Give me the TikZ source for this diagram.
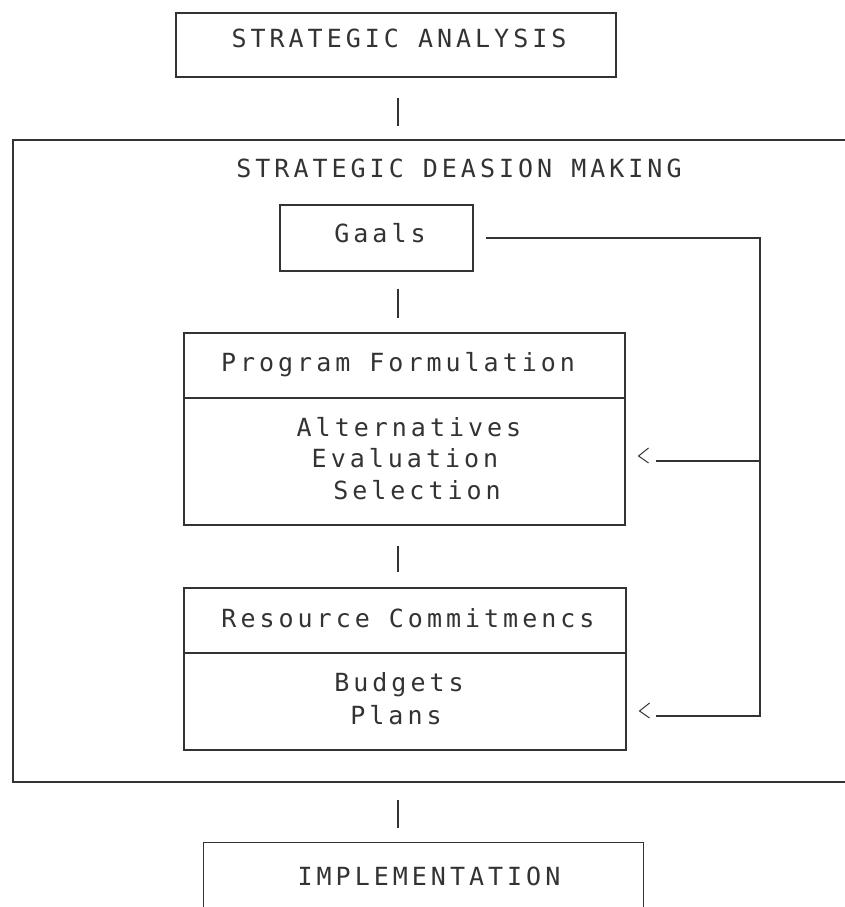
\documentclass[tikz,border=0pt]{standalone}
\usepackage{fontspec}
\usetikzlibrary{calc}
\newfontfamily\dotfont[LetterSpace=16]{DejaVu Sans Mono}
\begin{document}
\begin{tikzpicture}[x=1pt,y=-1pt,
  ink/.style={draw=black!80, line width=1.1pt},
  box/.style={ink, rectangle, inner sep=0pt, anchor=center},
  lbl/.style={font=\dotfont\fontsize{25}{30}\selectfont, text=black!80, inner sep=0pt, anchor=base, xshift=2pt},
  wire/.style={ink}]
\useasboundingbox (0,0) rectangle (845,907);
\clip (0,0) rectangle (845,907);

% boxes
\node[box, minimum width=440pt, minimum height=64pt] (sa) at (396,45) {};
\node[box, minimum width=193pt, minimum height=66pt] (gaals) at (376.5,238) {};
\node[box, minimum width=441pt, minimum height=192pt] (prog) at (404.5,429) {};
\node[box, minimum width=442pt, minimum height=162pt] (res) at (405,669) {};
\node[rectangle, inner sep=0pt, minimum width=439pt, minimum height=84pt] (impl) at (423.5,885) {};

% outer frame (open to the right)
\coordinate (otr) at (845,140);
\coordinate (otl) at (13,140);
\coordinate (obl) at (13,782);
\coordinate (obr) at (845,782);
\draw[ink] (otr) -- (otl) -- (obl) -- (obr);

% implementation box (open at the bottom)
\draw[ink] (impl.south west) -- (impl.north west) -- (impl.north east) -- (impl.south east);

% dividers
\coordinate (pdiv) at (0,398);
\coordinate (rdiv) at (0,653);
\draw[ink] (prog.west |- pdiv) -- (prog.east |- pdiv);
\draw[ink] (res.west |- rdiv) -- (res.east |- rdiv);

% vertical connectors
\coordinate (spine) at (398,0);
\draw[wire, shorten <=20pt, shorten >=14pt] (spine |- sa.south) -- (spine |- otl);
\draw[wire, shorten <=17pt, shorten >=14pt] (spine |- gaals.south) -- (spine |- prog.north);
\draw[wire, shorten <=20pt, shorten >=15pt] (spine |- prog.south) -- (spine |- res.north);
\draw[wire, shorten <=18pt, shorten >=15pt] (spine |- obl) -- (spine |- impl.north);

% feedback lines
\coordinate (fbtop) at (760,238);
\coordinate (fbev) at (760,461);
\coordinate (fbpl) at (760,716);
\draw[wire, shorten <=12pt] (gaals.east) -- (fbtop) -- (fbpl) -- ($(res.east |- fbpl)+(29,0)$);
\draw[wire] (fbev) -- ($(prog.east |- fbev)+(30,0)$);
% chevrons
\draw[ink, line width=1pt] ($(prog.east |- fbev)+(23,-13)$) -- ($(prog.east |- fbev)+(13,-5)$) -- ($(prog.east |- fbev)+(23,2)$);
\draw[ink, line width=1pt] ($(res.east |- fbpl)+(23,-13)$) -- ($(res.east |- fbpl)+(13,-5)$) -- ($(res.east |- fbpl)+(23,2)$);

% texts
\node[lbl] (tSA) at (397,48) {STRATEGIC ANALYSIS};
\node[lbl] (tSDM) at (457,177) {STRATEGIC DEASION MAKING};
\node[lbl] (tG) at (378,242) {Gaals};
\node[lbl] (tPF) at (396,371) {Program Formulation};
\node[lbl] (tA) at (407,436) {Alternatives};
\node[lbl] (tE) at (403,467) {Evaluation};
\node[lbl] (tS) at (415,499) {Selection};
\node[lbl] (tR) at (406,627) {Resource Commitmencs};
\node[lbl] (tB) at (397,691) {Budgets};
\node[lbl] (tP) at (394,724) {Plans};
\node[lbl] (tI) at (427,885) {IMPLEMENTATION};
\end{tikzpicture}
\end{document}
